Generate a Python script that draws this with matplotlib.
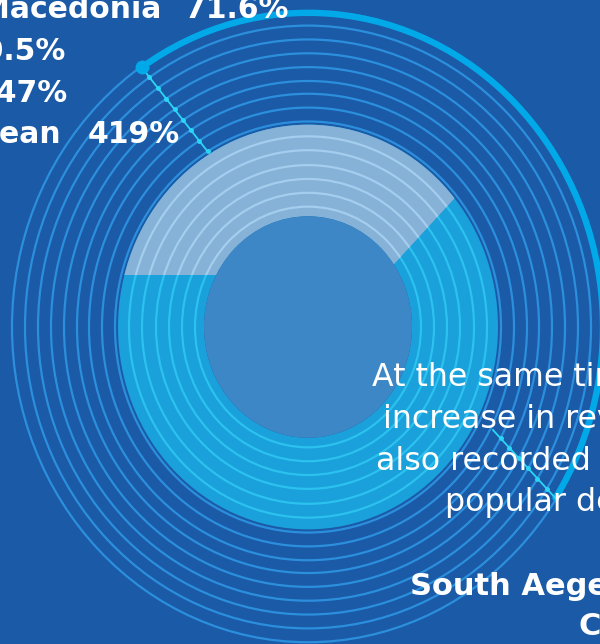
import numpy as np
import matplotlib
matplotlib.use("Agg")
import matplotlib.pyplot as plt
from matplotlib.patches import Circle, Wedge, Arc

# growth labels in the top-left corner (cut by the frame)
regions = ["Central Macedonia", "Thessaly", "Crete", "South Aegean"]
growth = ["71.6%", "40.5%", "147%", "419%"]

# text block on the right (cut by the frame)
body_lines = ["At the same time, an", "increase in revenue was", "also recorded in the", "popular destinations"]
title_lines = ["South Aegean", "Crete"]

# concentric guide rings (px radius)
ring_r = [113, 126, 139, 152, 166, 179, 193, 206, 219, 231, 244, 257, 270, 283, 296]

# colours
BG = "#1b5aa6"
RING = "#2b8fdd"
BAND = "#1aa0da"
BAND_RING = "#2cc2f0"
SEG = "#86b2d8"
SEG_RING = "#a4cdee"
CORE = "#3d87c6"
ARC = "#02a9e9"
POINT = "#2ad6f6"

SY = 1.065  # vertical stretch of the artwork
CX, CY = 308, 327


def px(x):
    return x - CX


def py(y):
    return (CY - y) / SY


fig = plt.figure(figsize=(6, 6.44), dpi=100)
fig.patch.set_facecolor(BG)
ax = fig.add_axes([0, 0, 1, 1])
ax.set_facecolor(BG)
ax.set_xlim(px(0), px(600))
ax.set_ylim(py(644), py(0))
ax.axis("off")

# donut band
ax.add_patch(Wedge((0, 0), 190, 0, 360, width=86, fc=BAND, ec="none", zorder=1))

# rings
for r in ring_r:
    col = BAND_RING if r < 190 else RING
    ax.add_patch(Circle((0, 0), r, fill=False, ec=col, lw=1.6, zorder=2))

# highlighted segment of the band
annulus = Wedge((0, 0), 190, 0, 360, width=86, transform=ax.transData)
seg = Wedge((px(384), py(275)), 500, 45.6, 180, fc=SEG, ec="none", zorder=3)
ax.add_patch(seg)
seg.set_clip_path(annulus)
seg_clip = Wedge((px(384), py(275)), 500, 45.6, 180, transform=ax.transData)
for r in ring_r:
    if r < 190:
        c = Circle((0, 0), r, fill=False, ec=SEG_RING, lw=1.6, zorder=4)
        ax.add_patch(c)
        c.set_clip_path(seg_clip)

# core
ax.add_patch(Circle((0, 0), 104, fc=CORE, ec="none", zorder=5))

# outer thick arc
R_ARC = 295
t1, t2 = -33.0, 124.3
ax.add_patch(Arc((0, 0), 2 * R_ARC, 2 * R_ARC, theta1=t1, theta2=t2,
                 lw=4.6, color=ARC, zorder=6, capstyle="round"))
a2 = np.radians(t2)
ax.plot([R_ARC * np.cos(a2)], [R_ARC * np.sin(a2)], "o", ms=9, color=ARC, zorder=7)


def pointer(p0, p1):
    p0 = np.array(p0, float)
    p1 = np.array(p1, float)
    ax.plot([p0[0], p1[0]], [p0[1], p1[1]], color=POINT, lw=1.3, zorder=6)
    d = p1 - p0
    a = d @ d
    b = 2 * p0 @ d
    for r in ring_r:
        c = p0 @ p0 - r * r
        disc = b * b - 4 * a * c
        if disc < 0:
            continue
        for t in ((-b - np.sqrt(disc)) / (2 * a), (-b + np.sqrt(disc)) / (2 * a)):
            if 0.02 < t <= 1.0:
                q = p0 + t * d
                ax.plot([q[0]], [q[1]], "o", ms=2.5, color=POINT, zorder=7)


a1 = np.radians(t1)
pointer((R_ARC * np.cos(a2), R_ARC * np.sin(a2)), (px(208), py(152)))
pointer((R_ARC * np.cos(a1), R_ARC * np.sin(a1)), (px(493), py(430)))

# top-left labels: region name and growth value, each right-aligned
label_font = dict(family=["DejaVu Sans"], fontweight="bold", color="white", fontsize=21.5)
name_right = [161, -30, -30, 61]
value_right = [288, 66, 68, 180]
label_base = [18, 60, 102, 143]
for name, val, xn, xv, yb in zip(regions, growth, name_right, value_right, label_base):
    ax.text(px(xn), py(yb), name, ha="right", va="baseline", zorder=8, **label_font)
    ax.text(px(xv), py(yb), val, ha="right", va="baseline", zorder=8, **label_font)

# body text
body_font = dict(family=["DejaVu Sans"], fontweight="normal", color="white", fontsize=22.8)
body_left = [372, 383, 376, 445]
body_base = [386, 428, 470, 511]
for s, xl, yb in zip(body_lines, body_left, body_base):
    ax.text(px(xl), py(yb), s, ha="left", va="baseline", zorder=8, **body_font)

title_font = dict(label_font, fontsize=22)
title_left = [410, 578]
title_base = [595, 635]
for s, xl, yb in zip(title_lines, title_left, title_base):
    ax.text(px(xl), py(yb), s, ha="left", va="baseline", zorder=8, **title_font)

fig.savefig("out.png", dpi=100, facecolor=BG)
